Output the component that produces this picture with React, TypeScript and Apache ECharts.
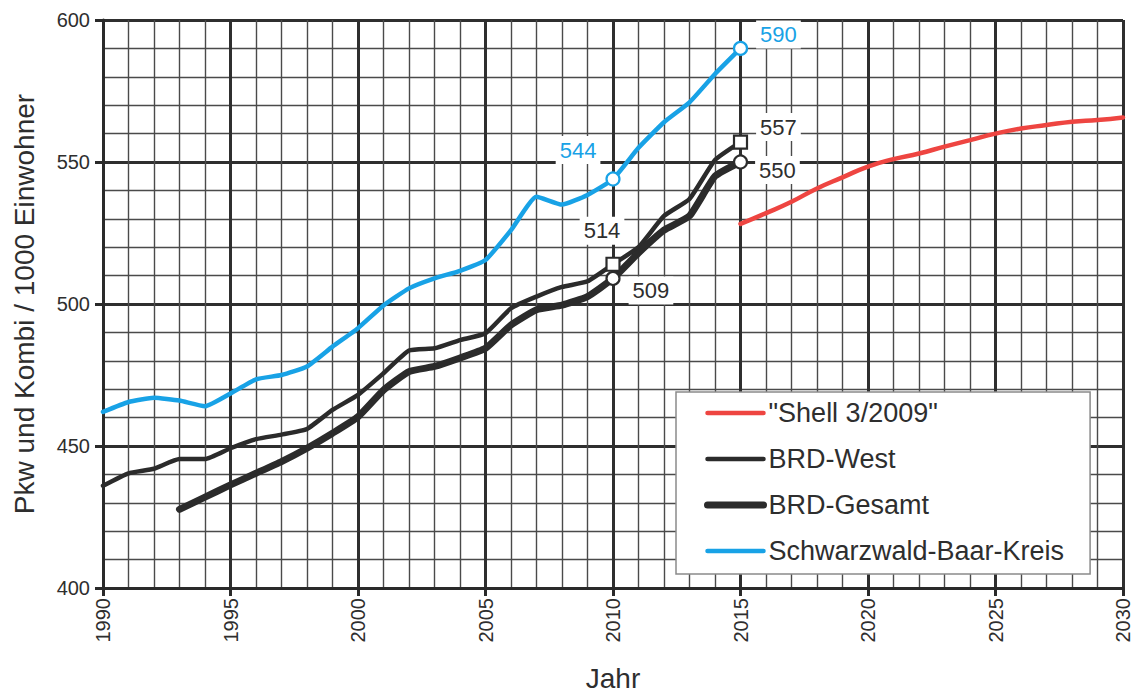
import React, { useEffect, useRef } from "react";
import * as echarts from "echarts";

const years = [1990, 1991, 1992, 1993, 1994, 1995, 1996, 1997, 1998, 1999, 2000, 2001, 2002, 2003, 2004, 2005, 2006, 2007, 2008, 2009, 2010, 2011, 2012, 2013, 2014, 2015];
const sbkValues = [462, 465.5, 467, 466, 464, 468.5, 473.5, 475, 478, 485, 491.5, 499.5, 505.5, 509, 511.7, 515.5, 526, 537.8, 535, 538.4, 544, 555, 564, 571, 581, 590];
const westValues = [436, 440.4, 442, 445.4, 445.4, 449.2, 452.4, 454, 456, 462.7, 468, 475.6, 483.6, 484.4, 487.3, 489.7, 498.5, 502.6, 506, 508, 514, 520, 531, 537, 550.7, 557];
const gesamtYears = [1993, 1994, 1995, 1996, 1997, 1998, 1999, 2000, 2001, 2002, 2003, 2004, 2005, 2006, 2007, 2008, 2009, 2010, 2011, 2012, 2013, 2014, 2015];
const gesamtValues = [427.7, 432, 436.3, 440.4, 444.5, 449.2, 454.5, 460.3, 469.7, 476.2, 478, 481, 484.4, 492.6, 498, 499.6, 502.6, 509, 518, 526, 531, 545, 550];
const shellYears = [2015, 2016, 2017, 2018, 2019, 2020, 2021, 2022, 2023, 2024, 2025, 2026, 2027, 2028, 2029, 2030];
const shellValues = [528.2, 532, 536, 540.7, 544.6, 548.4, 551, 553, 555.4, 557.7, 560, 561.8, 563, 564.2, 564.8, 565.7];

const names = ['"Shell 3/2009"', "BRD-West", "BRD-Gesamt", "Schwarzwald-Baar-Kreis"];
const markedYears = [2010, 2015];

const BLUE = "#18a2e6";
const RED = "#ee4541";
const BLACK = "#2b2b2b";
const TEXT = "#2e2e2e";
const FONT = "'Liberation Sans', Arial, sans-serif";

const pair = (xs: number[], ys: number[]) => xs.map((x, i) => [x, ys[i]]);
const valueAt = (xs: number[], ys: number[], x: number) => ys[xs.indexOf(x)];

export default function App() {
  const ref = useRef<HTMLDivElement>(null);
  useEffect(() => {
    if (!ref.current) return;
    const chart = echarts.init(ref.current, null, { renderer: "svg" });
    const labelBase = {
      show: true,
      fontSize: 22,
      fontFamily: FONT,
      backgroundColor: "#ffffff",
      padding: [3, 4],
      formatter: (p: any) => String(Math.round(p.value[1])),
    };
    const sbkMarks = markedYears.map((y, i) => ({
      value: [y, valueAt(years, sbkValues, y)],
      label:
        i === 0
          ? { ...labelBase, color: BLUE, position: "left", distance: 5, offset: [0, -29] }
          : { ...labelBase, color: BLUE, position: "right", distance: 8, offset: [0, -14] },
    }));
    const westMarks = markedYears.map((y, i) => ({
      value: [y, valueAt(years, westValues, y)],
      label:
        i === 0
          ? { ...labelBase, color: TEXT, position: "top", distance: 12, offset: [-11, 0] }
          : { ...labelBase, color: TEXT, position: "right", distance: 8, offset: [0, -15] },
    }));
    const gesamtMarks = markedYears.map((y, i) => ({
      value: [y, valueAt(gesamtYears, gesamtValues, y)],
      label:
        i === 0
          ? { ...labelBase, color: TEXT, position: "right", distance: 8, offset: [0, 12] }
          : { ...labelBase, color: TEXT, position: "right", distance: 7, offset: [0, 8] },
    }));

    const axisCommon = {
      type: "value",
      nameLocation: "middle",
      nameTextStyle: { fontSize: 28, color: TEXT, fontFamily: FONT },
      axisLine: { show: true, onZero: false, lineStyle: { color: "#2a2a2a", width: 3 } },
      axisTick: { show: true, length: 8, lineStyle: { color: "#2a2a2a", width: 3 } },
      splitLine: { show: true, lineStyle: { color: "#2f2f2f", width: 3 } },
      minorTick: { show: false, splitNumber: 5 },
      minorSplitLine: { show: true, lineStyle: { color: "#4a4a4a", width: 1.4 } },
    };

    chart.setOption({
      animation: false,
      backgroundColor: "#ffffff",
      textStyle: { fontFamily: FONT, color: TEXT },
      grid: {
        left: 103,
        top: 20,
        width: 1020,
        height: 568,
        containLabel: false,
        outerBoundsMode: "none",
      },
      legend: {
        data: names.map((n, i) => ({
          name: n,
          lineStyle: { width: i === 2 ? 7 : 4.5, cap: "round" },
        })),
        orient: "vertical",
        left: 676,
        top: 392,
        backgroundColor: "#ffffff",
        borderColor: "#8a8a8a",
        borderWidth: 1.5,
        padding: [6, 26, 8, 28],
        itemWidth: 56,
        itemHeight: 14,
        itemGap: 16,
        itemStyle: { opacity: 0 },
        textStyle: { fontSize: 27, color: TEXT, fontFamily: FONT, lineHeight: 30 },
        selectedMode: false,
      },
      xAxis: {
        ...axisCommon,
        min: 1990,
        max: 2030,
        interval: 5,
        name: "Jahr",
        nameGap: 76,
        axisLabel: {
          rotate: 90,
          margin: 10,
          fontSize: 20,
          color: TEXT,
          fontFamily: FONT,
          formatter: (v: number) => String(v),
        },
      },
      yAxis: {
        ...axisCommon,
        min: 400,
        max: 600,
        interval: 50,
        name: "Pkw und Kombi / 1000 Einwohner",
        nameGap: 65,
        axisLabel: {
          margin: 13,
          fontSize: 20,
          color: TEXT,
          fontFamily: FONT,
          formatter: (v: number) => String(v),
        },
      },
      series: [
        {
          name: names[0],
          type: "line",
          data: pair(shellYears, shellValues),
          smooth: true,
          symbol: "none",
          z: 5,
          lineStyle: { color: RED, width: 4.5, cap: "round" },
          itemStyle: { color: RED },
        },
        {
          name: names[1],
          type: "line",
          data: pair(years, westValues),
          smooth: 0.15,
          symbol: "none",
          z: 6,
          lineStyle: { color: BLACK, width: 4.5, cap: "round", join: "round" },
          itemStyle: { color: BLACK },
        },
        {
          name: names[2],
          type: "line",
          data: pair(gesamtYears, gesamtValues),
          smooth: 0.15,
          symbol: "none",
          z: 6,
          lineStyle: { color: BLACK, width: 7, cap: "round", join: "round" },
          itemStyle: { color: BLACK },
        },
        {
          name: names[3],
          type: "line",
          data: pair(years, sbkValues),
          smooth: 0.15,
          symbol: "none",
          z: 6,
          lineStyle: { color: BLUE, width: 4.5, cap: "round", join: "round" },
          itemStyle: { color: BLUE },
        },
        {
          name: "marks-sbk",
          type: "scatter",
          data: sbkMarks,
          symbol: "circle",
          symbolSize: 13,
          z: 10,
          itemStyle: { color: "#ffffff", borderColor: BLUE, borderWidth: 2.2, opacity: 1 },
        },
        {
          name: "marks-west",
          type: "scatter",
          data: westMarks,
          symbol: "rect",
          symbolSize: 13,
          z: 10,
          itemStyle: { color: "#ffffff", borderColor: BLACK, borderWidth: 2.2, opacity: 1 },
        },
        {
          name: "marks-gesamt",
          type: "scatter",
          data: gesamtMarks,
          symbol: "circle",
          symbolSize: 13,
          z: 10,
          itemStyle: { color: "#ffffff", borderColor: BLACK, borderWidth: 2.2, opacity: 1 },
        },
      ],
    });
    return () => chart.dispose();
  }, []);
  return (
    <div
      ref={ref}
      style={{ position: "fixed", left: 0, top: 0, width: 1136, height: 693, background: "#fff" }}
    />
  );
}
